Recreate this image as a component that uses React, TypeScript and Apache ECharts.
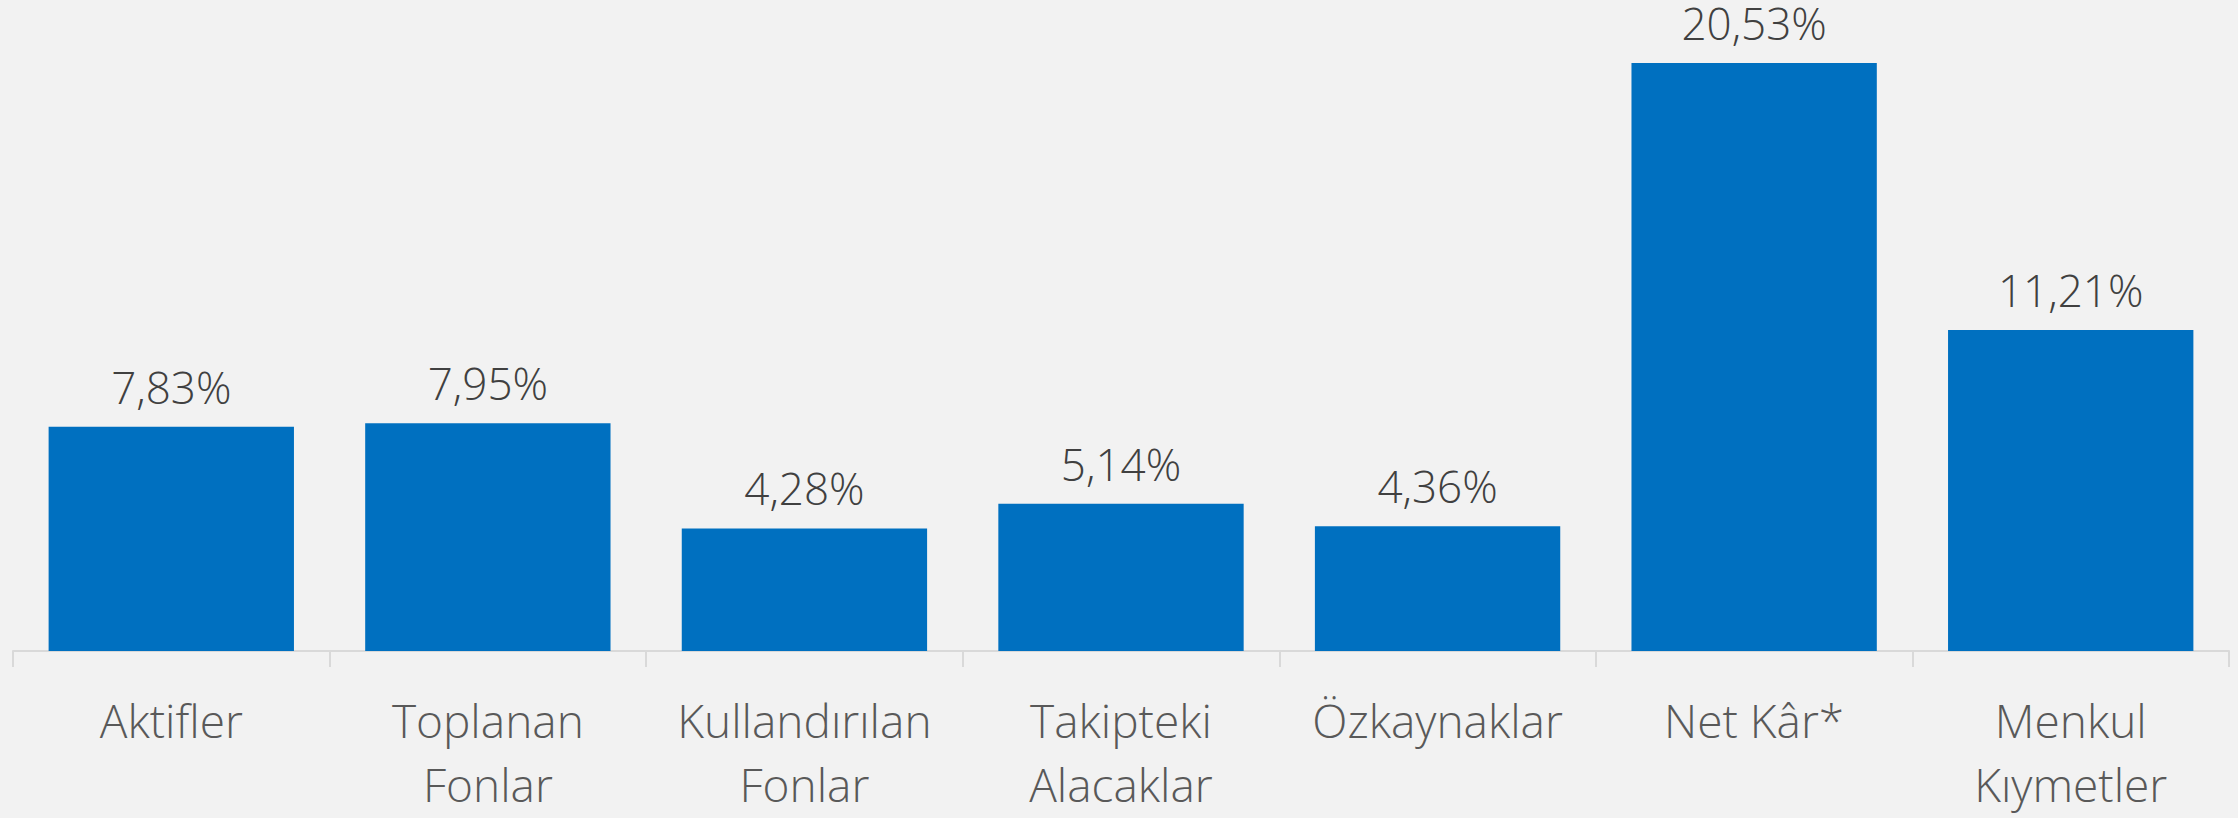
import React, { useEffect, useRef } from "react";
import * as echarts from "echarts";

const categories = [
  "Aktifler",
  "Toplanan\nFonlar",
  "Kullandırılan\nFonlar",
  "Takipteki\nAlacaklar",
  "Özkaynaklar",
  "Net Kâr*",
  "Menkul\nKıymetler",
];
const values = [7.83, 7.95, 4.28, 5.14, 4.36, 20.53, 11.21];

const FONT = "'Open Sans', 'Noto Sans', sans-serif";

export default function App() {
  const ref = useRef<HTMLDivElement>(null);
  useEffect(() => {
    if (!ref.current) return;
    const chart = echarts.init(ref.current, null, { renderer: "svg" });
    chart.setOption({
      animation: false,
      backgroundColor: "#f2f2f2",
      grid: { left: 13, right: 9, top: 21, bottom: 167 },
      xAxis: {
        type: "category",
        data: categories,
        axisLine: { show: true, lineStyle: { color: "#d9d9d9", width: 2 } },
        axisTick: { show: true, length: 16, lineStyle: { color: "#d9d9d9", width: 2 } },
        axisLabel: {
          color: "#595959",
          fontFamily: FONT,
          fontWeight: 300,
          fontSize: 46,
          lineHeight: 64,
          margin: 37,
          interval: 0,
        },
      },
      yAxis: {
        type: "value",
        min: 0,
        max: 22,
        show: false,
        splitLine: { show: false },
      },
      series: [
        {
          type: "bar",
          data: values,
          barCategoryGap: "22.5%",
          itemStyle: { color: "#0070c0" },
          label: {
            show: true,
            position: "top",
            distance: 18,
            color: "#404040",
            fontFamily: FONT,
            fontWeight: 300,
            fontSize: 44,
            formatter: (p: any) => p.value.toFixed(2).replace(".", ",") + "%",
          },
        },
      ],
    });
    return () => chart.dispose();
  }, []);
  return (
    <div
      ref={ref}
      style={{ position: "absolute", left: 0, top: 0, width: 2238, height: 818 }}
    />
  );
}
